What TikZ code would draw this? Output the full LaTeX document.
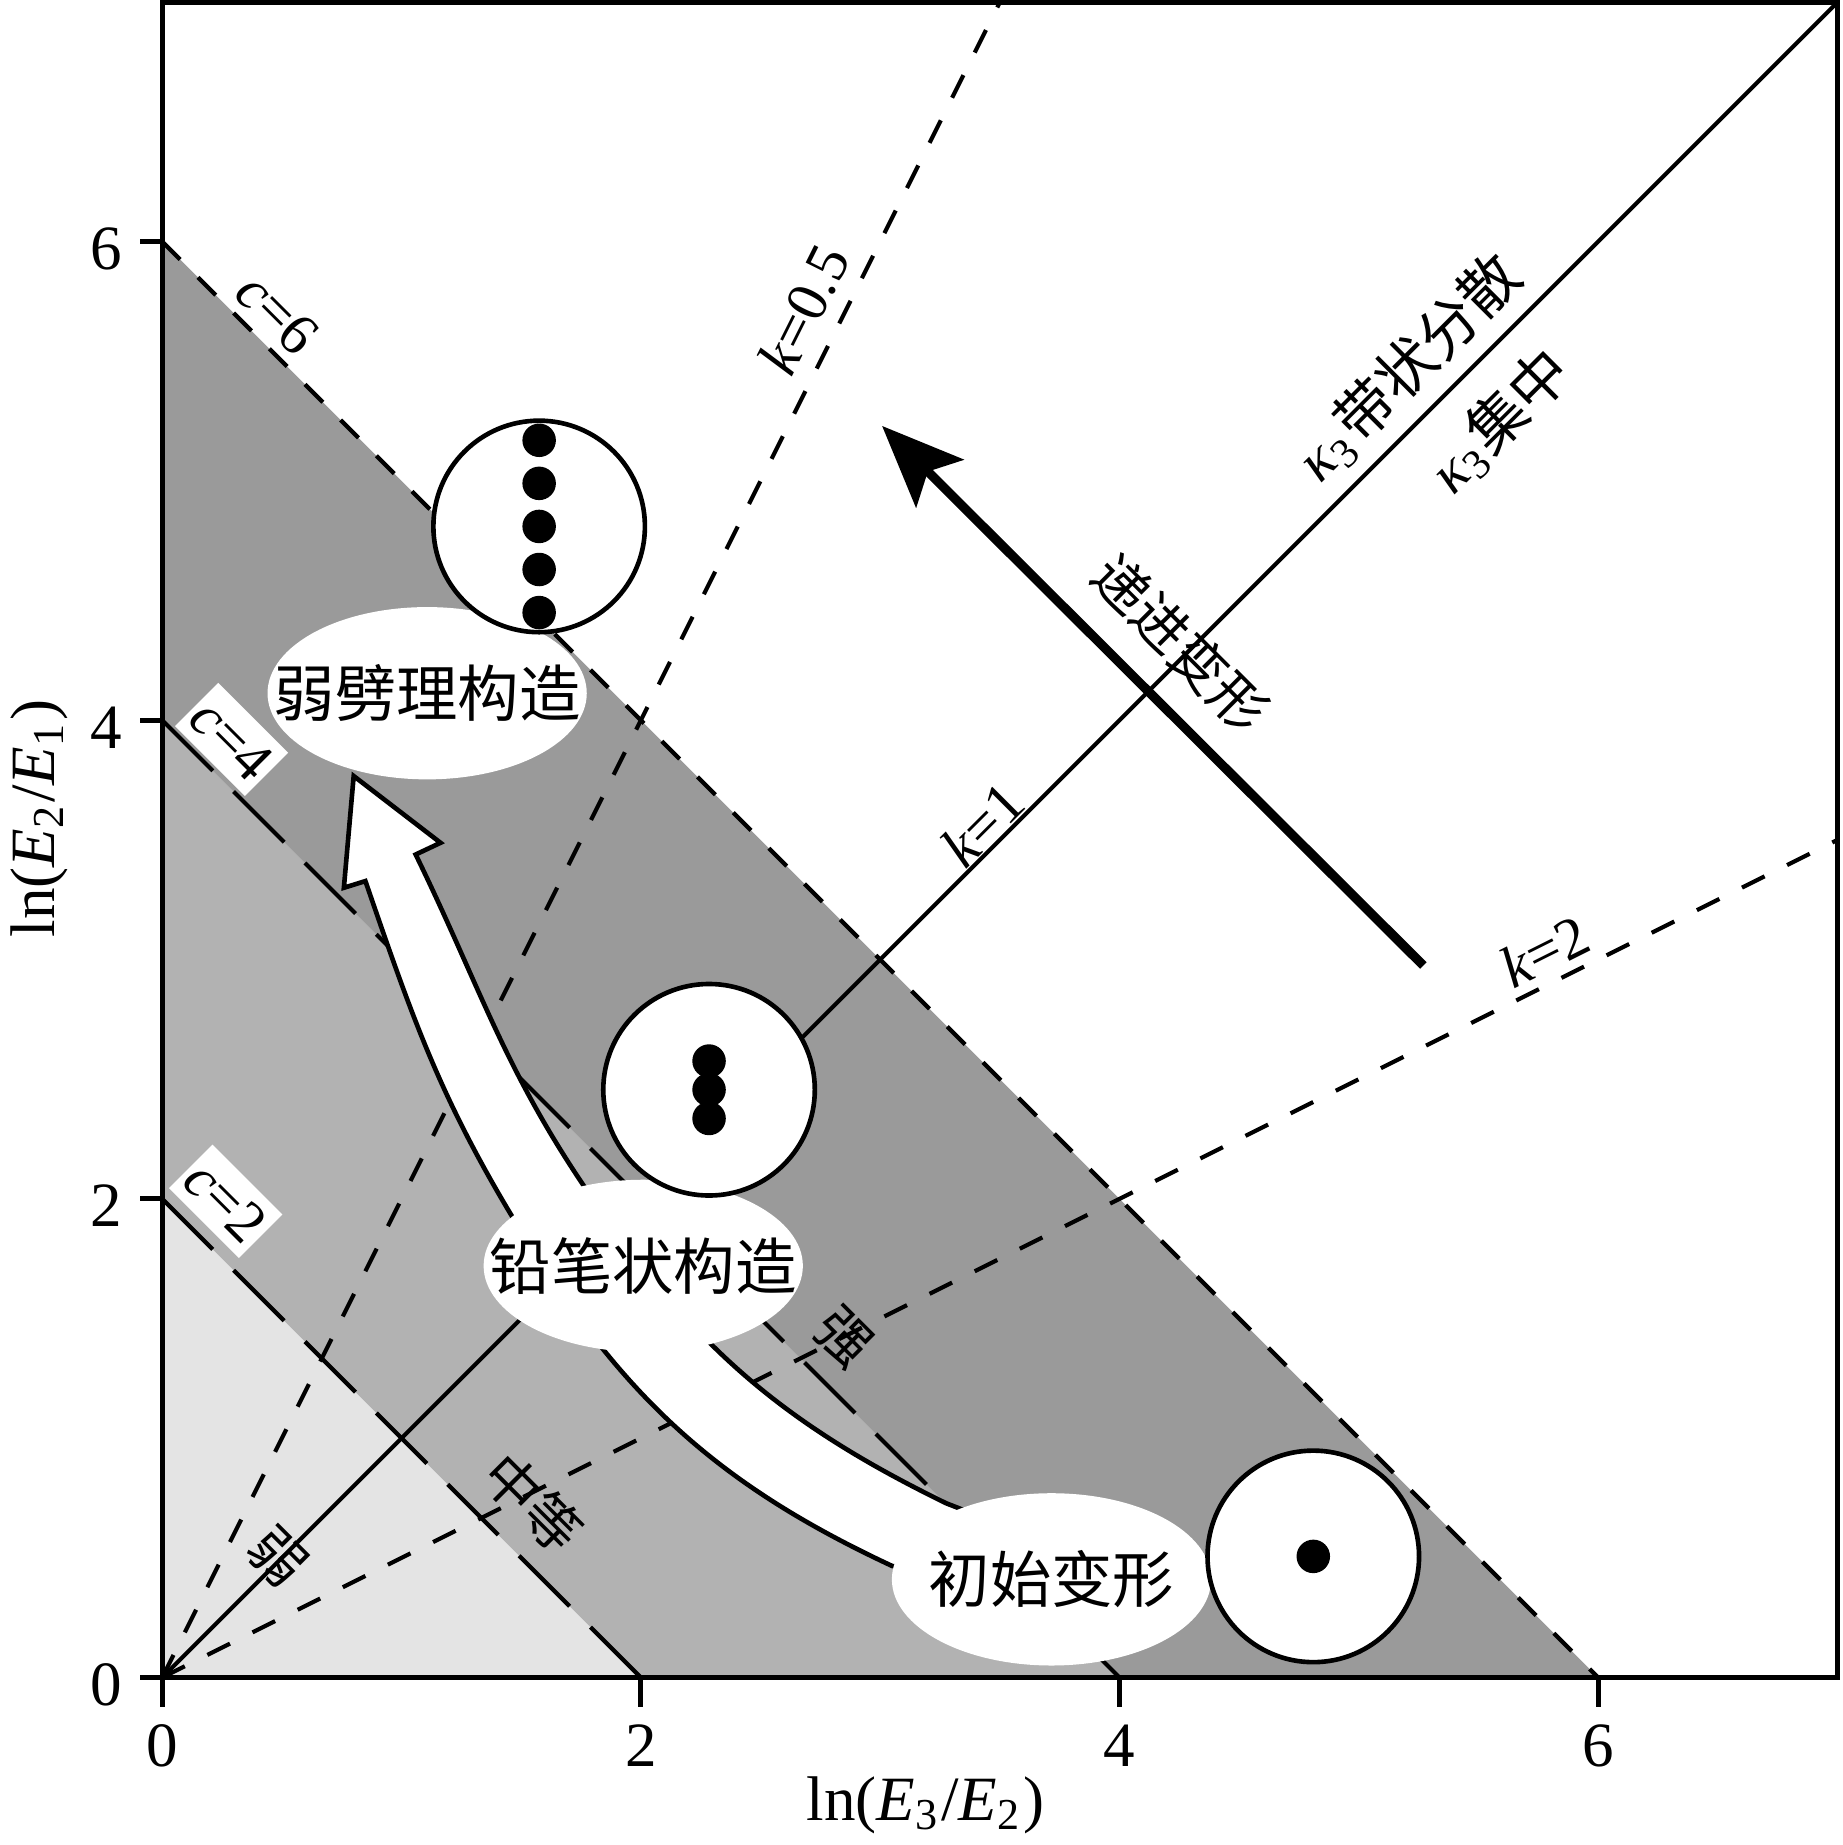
\documentclass[tikz,border=0pt]{standalone}
\usepackage{fontspec}
\setmainfont{Liberation Serif}
\newfontfamily\cjk{Noto Sans CJK SC}
\usetikzlibrary{arrows.meta,shapes.geometric}
\definecolor{lowband}{HTML}{E4E4E4}
\definecolor{midband}{HTML}{B2B2B2}
\definecolor{highband}{HTML}{9A9A9A}
\tikzset{
  frameline/.style={line width=0.6pt},
  guide/.style={line width=0.5pt},
  shortdash/.style={line width=0.5pt,dash pattern=on 3pt off 3pt},
  longdash/.style={line width=0.5pt,dash pattern=on 8.5pt off 3.5pt},
  disc/.style={circle,draw,fill=white,line width=0.55pt,minimum size=0.884cm,inner sep=0pt},
  blob/.style={ellipse,fill=white,minimum width=1.334cm,minimum height=0.72cm,inner sep=0pt},
  lbl/.style={font=\fontsize{7}{8}\selectfont,inner sep=0.5pt},
  axislbl/.style={font=\fontsize{7.5}{9}\selectfont,inner sep=0pt},
  tagbox/.style={lbl,fill=white,inner xsep=0.6pt,inner ysep=1.3pt},
  zh/.style={font=\fontsize{7.3}{9}\selectfont\cjk,inner sep=0pt},
  zhsmall/.style={font=\fontsize{6.6}{8}\selectfont\cjk,inner sep=0pt},
  whitearrow/.style={fill=white,draw,line width=0.55pt,line join=miter},
  pusharrow/.style={line width=1.1pt,-{Stealth[length=0.34cm,width=0.28cm,inset=0.07cm]}}
}
\begin{document}
\begin{tikzpicture}
  \useasboundingbox (-0.678,-0.70) rectangle (7.021,7.01);
  \fill[lowband] (0,0) -- (2,0) -- (0,2) -- cycle;
  \fill[midband] (2,0) -- (4,0) -- (0,4) -- (0,2) -- cycle;
  \fill[highband] (4,0) -- (6,0) -- (0,6) -- (0,4) -- cycle;
  \draw[longdash] (0,2) -- (2,0);
  \draw[longdash] (0,4) -- (4,0);
  \draw[shortdash] (0,6) -- (6,0);
  \draw[shortdash] (0,0) -- (3.5,7);
  \draw[shortdash] (0,0) -- (7,3.5);
  \draw[guide] (0,0) -- (7,7);
  \draw[whitearrow] (3.35,0.42) -- (3.05,0.466) to[out=155,in=-59] (1.464,1.923)
    to[out=121,in=-71] (0.849,3.328) -- (0.759,3.300) -- (0.800,3.767) -- (1.163,3.488)
    -- (1.059,3.439) to[out=-64,in=124] (1.762,2.054) to[out=-56,in=154] (3.276,0.728)
    -- (3.45,0.66) -- cycle;
  \node[blob] (cleavetag) at (1.107,4.113) {};
  \node[zh] (cleavetxt) at (cleavetag) {弱劈理构造};
  \node[blob] (penciltag) at (2.010,1.720) {};
  \node[zh] (penciltxt) at (penciltag) {铅笔状构造};
  \node[blob] (starttag) at (3.716,0.410) {};
  \node[zh] (starttxt) at (starttag) {初始变形};
  \node[disc] (cleave) at (1.575,4.810) {};
  \foreach \dy in {-0.36,-0.18,0,0.18,0.36}
    \fill (cleave.center) ++(0,\dy) circle[radius=0.07];
  \node[disc] (pencil) at (2.285,2.456) {};
  \foreach \dy in {-0.12,0,0.12}
    \fill (pencil.center) ++(0,\dy) circle[radius=0.07];
  \node[disc] (start) at (4.810,0.506) {};
  \fill (start.center) circle[radius=0.07];
  \node[lbl,rotate=-45] (c6) at (0.483,5.701) {\textit{c}=6};
  \node[tagbox,rotate=-45] (c4) at (0.29,3.92) {\textit{c}=4};
  \node[tagbox,rotate=-45] (c2) at (0.265,1.99) {\textit{c}=2};
  \node[lbl,rotate=63.43] (k05) at (2.680,5.717) {\textit{k}=0.5};
  \node[lbl,rotate=45] (k1) at (3.427,3.565) {\textit{k}=1};
  \node[lbl,rotate=26.57] (k2) at (5.777,3.037) {\textit{k}=2};
  \node[lbl,rotate=45] (spread) at (5.209,5.473) {\textit{κ}\textsubscript{3}{\cjk 带状分散}};
  \node[lbl,rotate=45] (focus) at (5.590,5.251) {\textit{κ}\textsubscript{3}{\cjk 集中}};
  \node[zhsmall,rotate=-45] (progress) at (4.255,4.322) {递进变形};
  \node[zhsmall,rotate=-45] (weak) at (0.48,0.506) {弱};
  \node[zhsmall,rotate=-45] (medium) at (1.55,0.73) {中等};
  \node[zhsmall,rotate=-45] (strong) at (2.85,1.42) {强};
  \coordinate (pushtail) at (5.27,2.975);
  \coordinate (pushhead) at (3.008,5.230);
  \draw[pusharrow] (pushtail) -- (pushhead);
  \draw[frameline] (0,0) rectangle (7,7);
  \foreach \v in {0,2,4,6}{
    \draw[frameline] (\v,0) -- (\v,-0.125);
    \node[axislbl] (xt\v) at (\v,-0.285) {\v};
    \draw[frameline] (0,\v) -- (-0.092,\v);
    \node[axislbl] (yt\v) at (-0.235,\v-0.03) {\v};
  }
  \node[axislbl,anchor=base] (xlab) at (3.19,-0.597) {ln(\textit{E}\textsubscript{3}/\textit{E}\textsubscript{2})};
  \node[axislbl,anchor=base,rotate=90] (ylab) at (-0.45,3.59) {ln(\textit{E}\textsubscript{2}/\textit{E}\textsubscript{1})};
\end{tikzpicture}
\end{document}
